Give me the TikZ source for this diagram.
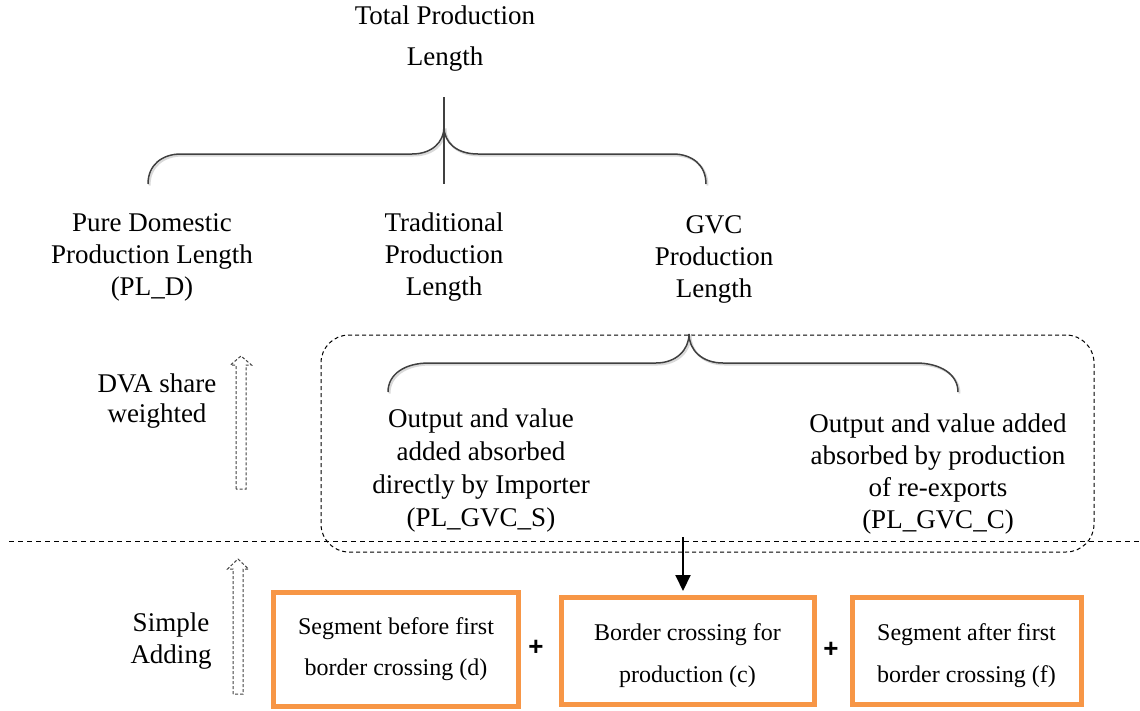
\documentclass[tikz,border=0pt]{standalone}
\usepackage{fontspec}
\setmainfont{Liberation Serif}
\newfontfamily\plusfont{Liberation Sans}
\usetikzlibrary{arrows.meta}
\definecolor{boxorange}{HTML}{F79646}
\definecolor{braceg}{HTML}{404040}
\begin{document}
\begin{tikzpicture}[x=1pt,y=-1pt,
  lbl/.style={align=center, inner sep=0pt, font=\fontsize{27}{32}\selectfont},
  boxtxt/.style={align=center, inner sep=0pt, font=\fontsize{24}{41}\selectfont},
  obox/.style={draw=boxorange, line width=5pt, fill=white, inner sep=0pt},
  bracepath/.style={draw=braceg, line width=1.5pt},
  braceshadow/.style={draw=black!15, line width=2pt},
  hollow/.style={draw=black!75, dash pattern=on 3pt off 2pt, line width=1pt},
  sepline/.style={draw=black, dash pattern=on 5pt off 4pt, line width=1pt},
  plus/.style={inner sep=0pt, font=\plusfont\bfseries\fontsize{26}{30}\selectfont},
]
\useasboundingbox (0,0) rectangle (1140,710);

% top labels
\node[lbl, font=\fontsize{27}{41}\selectfont] (total) at (445,39) {Total Production\\Length};
\node[lbl] (pure) at (152,257) {Pure Domestic\\Production Length\\(PL\_D)};
\node[lbl] (trad) at (444,257) {Traditional\\Production\\Length};
\node[lbl] (gvc) at (714,259) {GVC\\Production\\Length};

% top brace
\foreach \sty/\d in {braceshadow/1.5, bracepath/0}{
  \begin{scope}[shift={(\d,\d)}]
  \path[\sty] (148,184) .. controls (148,165) and (162,154) .. (181,154) -- (412,154)
        .. controls (432,154) and (444,142) .. (444,127);
  \path[\sty] (444,127) .. controls (444,142) and (456,154) .. (478,154) -- (673,154)
        .. controls (692,154) and (706,165) .. (706,184);
  \end{scope}
}
\draw[bracepath] (444,97) -- (444,184);

% dashed GVC box
\node[draw=black, dash pattern=on 4pt off 3pt, line width=1pt, rounded corners=28pt,
      minimum width=773pt, minimum height=217pt, inner sep=0pt] (gvcbox) at (707.5,443.5) {};

% second brace
\foreach \sty/\d in {braceshadow/1.5, bracepath/0}{
  \begin{scope}[shift={(\d,\d)}]
  \path[\sty] (388,392) .. controls (388,374) and (405,363) .. (429,363) -- (656,363)
        .. controls (676,363) and (689,350) .. (689,334);
  \path[\sty] (689,334) .. controls (689,350) and (702,363) .. (723,363) -- (916,363)
        .. controls (940,363) and (958,374) .. (958,392);
  \end{scope}
}

\node[lbl, font=\fontsize{27}{33}\selectfont] (gvcs) at (481,470) {Output and value\\added absorbed\\directly by Importer\\(PL\_GVC\_S)};
\node[lbl, font=\fontsize{27}{32.3}\selectfont] (gvcc) at (938,474) {Output and value added\\absorbed by production\\of re-exports\\(PL\_GVC\_C)};

% left labels
\node[lbl, font=\fontsize{27}{30}\selectfont] (dva) at (157,401) {DVA share\\weighted};
\node[lbl] (simple) at (171,641) {Simple\\Adding};

% hollow dashed arrows
\path[hollow] (236,489) -- (236,365) -- (230.5,365) -- (241,356) -- (251.5,365) -- (246,365) -- (246,489) -- cycle;
\path[hollow] (233,694) -- (233,569) -- (227.5,569) -- (238,559) -- (248.5,569) -- (243,569) -- (243,694) -- cycle;

% separator
\path[sepline] (9,541) -- (1140,541);

% orange boxes
\node[obox, minimum width=245pt, minimum height=114pt] (b1) at (396,649) {};
\node[boxtxt] (t1) at (b1) {Segment before first\\border crossing (d)};
\node[obox, minimum width=253pt, minimum height=107pt] (b2) at (687.5,651) {};
\node[boxtxt, font=\fontsize{24}{42}\selectfont] (t2) at (687.5,656) {Border crossing for\\production (c)};
\node[obox, minimum width=229pt, minimum height=107pt] (b3) at (966.5,651) {};
\node[boxtxt, font=\fontsize{24}{42}\selectfont] (t3) at (966.5,656) {Segment after first\\border crossing (f)};

\node[plus] (p1) at (536,648) {+};
\node[plus] (p2) at (831,650) {+};

% arrow
\coordinate (astart) at (683,537);
\draw[line width=2pt, -{Triangle[length=16pt,width=15pt]}, shorten >=4pt] (astart) -- (astart |- b2.north);
\end{tikzpicture}
\end{document}
